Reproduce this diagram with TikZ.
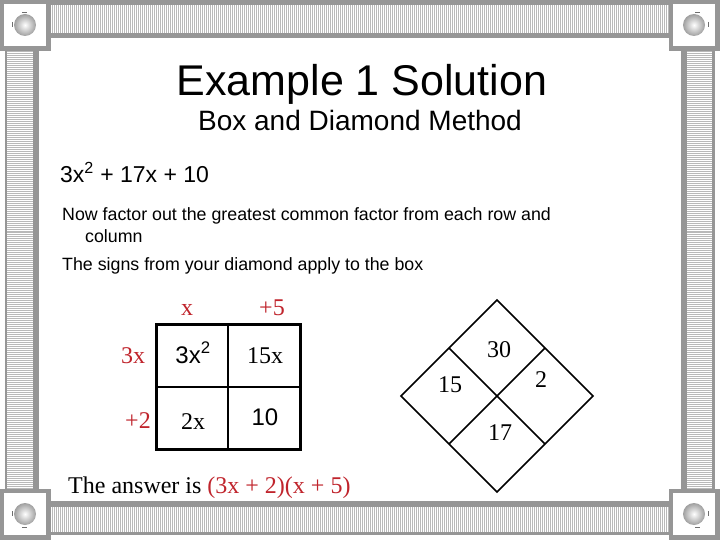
\documentclass[tikz,border=0pt]{standalone}
\usepackage{fontspec}
\setmainfont{Liberation Serif}
\setsansfont{Liberation Sans}
\definecolor{framegray}{RGB}{150,150,150}
\definecolor{stripegray}{RGB}{185,185,185}
\definecolor{tickgray}{RGB}{110,110,110}
\definecolor{ansred}{RGB}{192,36,44}
\begin{document}
\begin{tikzpicture}[x=1pt,y=-1pt,
  titletext/.style={font=\sffamily\fontsize{43}{43}\selectfont, anchor=base, inner sep=0},
  subtext/.style={font=\sffamily\fontsize{28}{28}\selectfont, anchor=base, inner sep=0},
  eqtext/.style={font=\sffamily\fontsize{23}{23}\selectfont, anchor=base west, inner sep=0},
  bodytext/.style={font=\sffamily\fontsize{17.8}{20}\selectfont, anchor=base west, inner sep=0},
  serif/.style={font=\rmfamily\fontsize{24}{24}\selectfont, anchor=base, inner sep=0},
  serifred/.style={serif, text=ansred},
  sanscell/.style={font=\sffamily\fontsize{24}{24}\selectfont, anchor=base, inner sep=0},
  stripe/.style={stripegray, line width=1pt},
  tick/.style={tickgray, line width=0.8pt}
]
\useasboundingbox (0,0) rectangle (720,540);
\fill[white] (0,0) rectangle (720,540);

% ---- frame bars ----
% top
\fill[framegray] (40,0) rectangle (680,38);
\fill[white] (40,5) rectangle (680,33);
\foreach \i in {40,42,...,680} \draw[stripe] (\i,5) -- (\i,33);
% bottom
\fill[framegray] (40,501) rectangle (680,535);
\fill[white] (40,507) rectangle (680,532);
\foreach \i in {40,42,...,680} \draw[stripe] (\i,507) -- (\i,532);
% left
\fill[framegray] (5,40) rectangle (39,500);
\fill[white] (7,40) rectangle (33,500);
\foreach \j in {40,42,...,500} \draw[stripe] (7,\j) -- (33,\j);
% right
\fill[framegray] (681,40) rectangle (715,500);
\fill[white] (687,40) rectangle (712,500);
\foreach \j in {40,42,...,500} \draw[stripe] (687,\j) -- (712,\j);

% ---- corner squares ----
\foreach \cx/\cy in {0/0, 669/0, 0/489, 669/489}{
  \fill[framegray] (\cx,\cy) rectangle ++(51,51);
  \fill[white] (\cx+4,\cy+4) rectangle ++(42,42);
  \shade[inner color=white, outer color=gray!75] (\cx+25,\cy+25) circle (11);
}
% ticks
\draw[tick] (22,12) -- (27,12);
\draw[tick] (12,22) -- (12,27);
\draw[tick] (695,12) -- (700,12);
\draw[tick] (708,22) -- (708,27);
\draw[tick] (12,511) -- (12,516);
\draw[tick] (22,527) -- (27,527);
\draw[tick] (708,511) -- (708,516);
\draw[tick] (695,527) -- (700,527);

% ---- titles ----
\node[titletext] (title) at (362,96) {Example 1 Solution};
\node[subtext] (subtitle) at (360,131) {Box and Diamond Method};

% ---- body ----
\node[eqtext] (eq) at (60,183) {3x\textsuperscript{2} + 17x + 10};
\node[bodytext] (l1) at (62,221) {Now factor out the greatest common factor from each row and};
\node[bodytext] (l2) at (85,243) {column};
\node[bodytext] (l3) at (62,270) {The signs from your diamond apply to the box};

% ---- box ----
\draw[line width=3pt] (156,324) rectangle (300,449);
\draw[line width=2pt] (228,324) -- (228,449);
\draw[line width=2pt] (156,387) -- (300,387);

\node[serifred] (cx) at (187,315) {x};
\node[serifred] (c5) at (272,315) {+5};
\node[serifred] (r3x) at (133,363) {3x};
\node[serifred] (r2) at (138,428) {+2};

\node[sanscell] (a11) at (193,363) {3x\textsuperscript{2}};
\node[serif] (a12) at (265,363) {15x};
\node[serif] (a21) at (193,429) {2x};
\node[sanscell] (a22) at (265,425) {10};

% ---- diamond ----
\draw[line width=1.6pt] (497,300) -- (593,396) -- (497,492) -- (401,396) -- cycle;
\draw[line width=1.6pt] (449,348) -- (545,444);
\draw[line width=1.6pt] (545,348) -- (449,444);

\node[serif] (d30) at (499,357) {30};
\node[serif] (d15) at (450,392) {15};
\node[serif] (d2) at (541,387) {2};
\node[serif] (d17) at (500,440) {17};

% ---- answer ----
\node[serif, anchor=base west] (ans) at (68,493) {The answer is \textcolor{ansred}{(3x + 2)(x + 5)}};
\end{tikzpicture}
\end{document}
